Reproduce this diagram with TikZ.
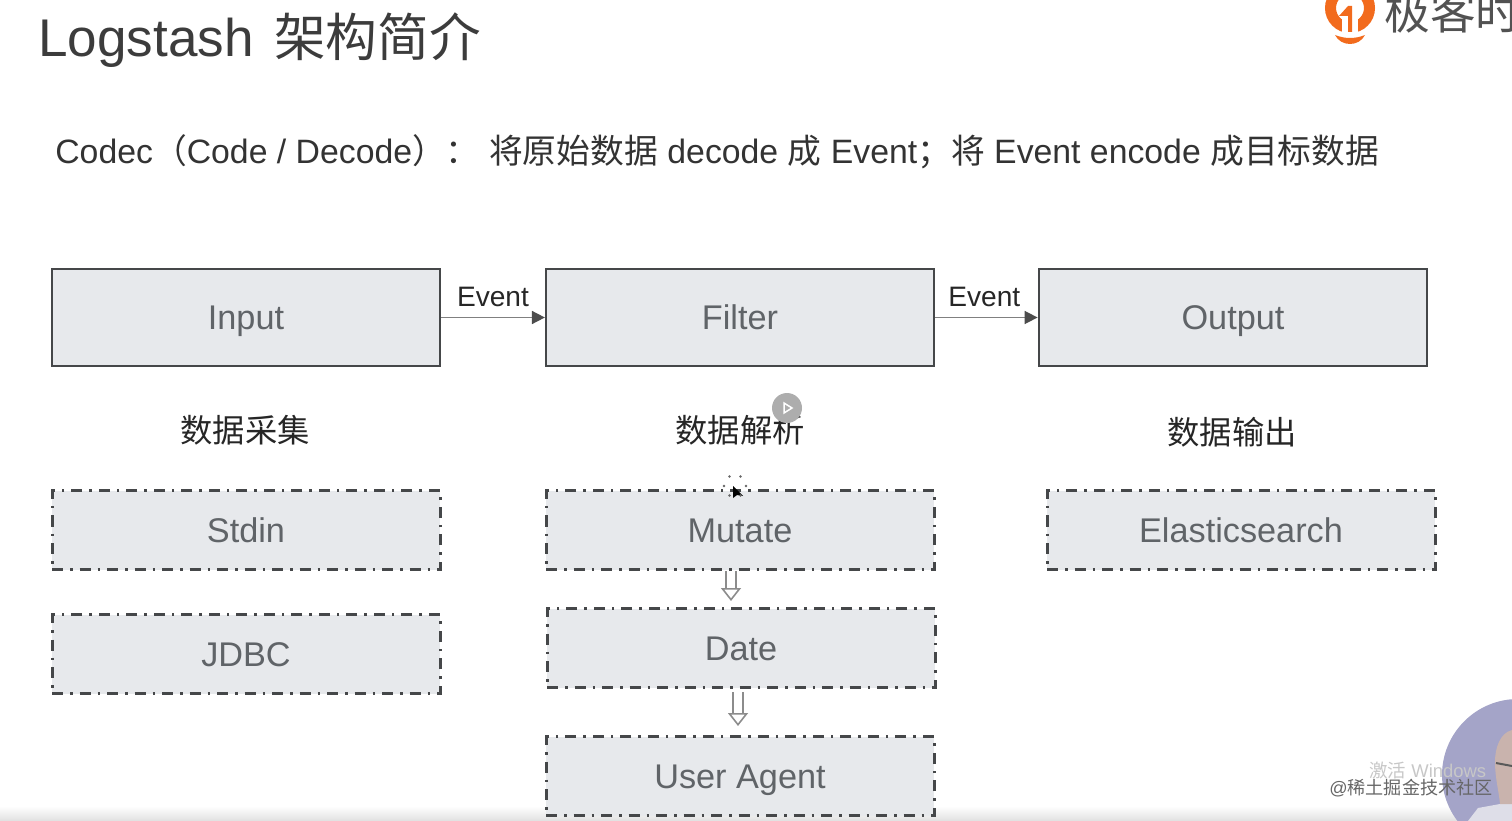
\documentclass[tikz,border=0pt]{standalone}
\usepackage{fontspec}
\setmainfont{Liberation Sans}
\newfontfamily\cjk{Noto Sans CJK SC}
\usetikzlibrary{positioning}
\usetikzlibrary{arrows.meta}

\definecolor{boxfill}{HTML}{E7E9EC}
\definecolor{boxline}{HTML}{454749}
\definecolor{boxtext}{HTML}{606468}
\definecolor{titletext}{HTML}{3C3C3C}
\definecolor{logoorange}{HTML}{F26B1D}
\definecolor{camback}{HTML}{A4A4C8}
\definecolor{camskin}{HTML}{C9B3AD}
\definecolor{camshirt}{HTML}{DEDEE8}

\tikzset{
  solidbox/.style={draw=boxline, line width=2.2*0.02cm, fill=boxfill, minimum width=388*0.02cm, minimum height=97*0.02cm, inner sep=0pt, text=boxtext, text height=14pt, text depth=0pt, font=\fontsize{19.5}{22}\selectfont},
  dashbox/.style={draw=boxline, line width=3*0.02cm, fill=boxfill, dash pattern=on 11*0.02cm off 7*0.02cm on 2.5*0.02cm off 7*0.02cm, minimum width=388*0.02cm, minimum height=79*0.02cm, inner sep=0pt, text=boxtext, text height=14pt, text depth=0pt, font=\fontsize{19.5}{22}\selectfont},
  flow/.style={draw=black!50, line width=1.6*0.02cm, -{Triangle[length=13*0.02cm, width=13*0.02cm, color=black!70]}},
  hollow/.style={draw=black!45, line width=1.6*0.02cm, double=white, double distance=8*0.02cm, -{Triangle[open, fill=white, length=13*0.02cm, width=20*0.02cm]}},
  eventlabel/.style={inner sep=0pt, text=black!85, font=\fontsize{16}{19}\selectfont},
  steplabel/.style={inner sep=0pt, text=black!85, font=\cjk\fontsize{18.4}{22}\selectfont},
}

\begin{document}
\begin{tikzpicture}[x=0.02cm, y=-0.02cm]
\useasboundingbox (0,0) rectangle (1512,821);
\clip (0,0) rectangle (1512,821);

% bottom strip
\shade[top color=white, bottom color=black!12] (0,806) rectangle (1512,821);

% heading
\node[anchor=west, inner sep=0pt, text=titletext, font=\fontsize{30.2}{34}\selectfont] (title) at (38,40) {Logstash\kern 20.5\dimexpr 0.02cm\relax{\cjk\fontsize{29.4}{34}\selectfont 架构简介}};
\node[anchor=west, inner sep=0pt, text=black!80, font=\fontsize{19.23}{23}\selectfont] (codec) at (55,152) {Codec{\cjk （}Code / Decode{\cjk ）：} {\cjk 将原始数据} decode {\cjk 成} Event{\cjk ；将} Event encode {\cjk 成目标数据}};

% logo
\draw[logoorange, line width=11*0.02cm] (1350,8) circle (19.5);
\fill[white] (1342,16) -- (1358,16) -- (1358,36) -- (1342,36) -- cycle;
\fill[logoorange] (1339,16) -- (1348,6) -- (1352,6) -- (1352,32) -- (1348,32) -- (1348,16) -- cycle;
\fill[logoorange] (1335,35) .. controls (1345,39) and (1355,39) .. (1365,35) .. controls (1359,47) and (1341,47) .. (1335,35) -- cycle;
\node[anchor=west, inner sep=0pt, text=black!68, font=\cjk\fontsize{26}{30}\selectfont] (brand) at (1384,12) {极客时};

% top row
\node[solidbox] (input) at (246,317.5) {Input};
\node[solidbox] (filter) at (740,317.5) {Filter};
\node[solidbox, line width=2.8*0.02cm] (output) at (1233,317.5) {Output};

\draw[flow] (input) -- (filter) node[eventlabel, midway, above=10*0.02cm] (ev1) {Event};
\draw[flow] (filter) -- (output) node[eventlabel, midway, above=10*0.02cm, xshift=-2*0.02cm] (ev2) {Event};

\node[steplabel] (collect) at (245,430) {数据采集};
\node[steplabel] (parse) at (740,430) {数据解析};
\node[steplabel] (emit) at (1232,432) {数据输出};

% plugins
\node[dashbox] (stdin) at (246,530) {Stdin};
\node[dashbox] (jdbc) at (246,654) {JDBC};
\node[dashbox] (mutate) at (740,530) {Mutate};
\node[dashbox] (date) at (741,648) {Date};
\node[dashbox] (agent) at (740,776) {User Agent};
\node[dashbox] (elastic) at (1241,530) {Elasticsearch};

\draw[hollow, shorten >=6*0.02cm] ([xshift=-9*0.02cm]mutate.south) -- ([xshift=-10*0.02cm]date.north);
\draw[hollow, shorten >=9*0.02cm, shorten <=3*0.02cm] ([xshift=-3*0.02cm]date.south) -- ([xshift=-2*0.02cm]agent.north);

% play button and cursor
\fill[black!32] (787,408) circle (15);
\draw[white, line width=1.5*0.02cm] (784,403) -- (792,408) -- (784,413) -- cycle;
\fill[black] (733,486) -- (733,498) -- (737,495) -- (743,496) -- cycle;
\foreach \a in {0,60,...,300}
  \fill[black!60] ({735+11*cos(\a)},{486+11*sin(\a)}) circle (1.4);

% camera
\begin{scope}
\clip (1518,775) circle (76);
\fill[camback] (1440,695) rectangle (1512,821);
\fill[camshirt] (1468,821) -- (1478,808) -- (1500,804) -- (1512,800) -- (1512,821) -- cycle;
\fill[camskin] (1512,730) .. controls (1500,733) and (1495,748) .. (1495,762) .. controls (1495,778) and (1499,792) .. (1500,804) -- (1512,804) -- cycle;
\draw[black!65, line width=2*0.02cm] (1496,763) -- (1512,766);
\end{scope}

% watermarks
\node[anchor=west, inner sep=0pt, text=black!22, font=\fontsize{10.5}{12}\selectfont] (activate) at (1369,770) {{\cjk 激活} Windows};
\node[anchor=west, inner sep=0pt, text=black!60, font=\fontsize{10.3}{12}\selectfont] (mark) at (1329,788) {@{\cjk 稀土掘金技术社区}};

\end{tikzpicture}
\end{document}
